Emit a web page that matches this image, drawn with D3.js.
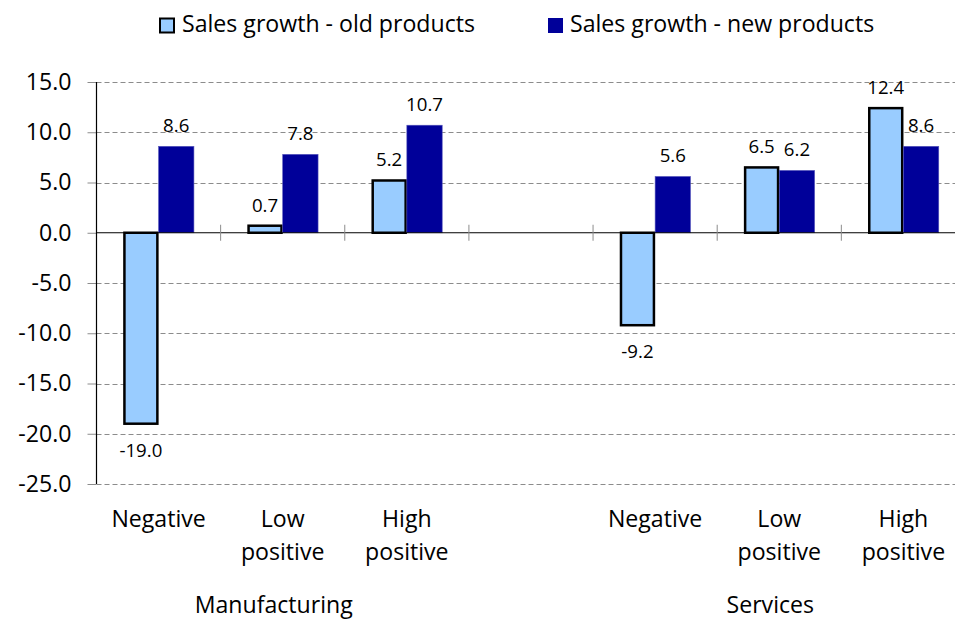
<!DOCTYPE html>
<html>
<head>
<meta charset="utf-8">
<script src="https://cdn.jsdelivr.net/npm/d3@7"></script>
<style>
  html, body { margin: 0; padding: 0; background: #fff; }
  svg { display: block; }
</style>
</head>
<body>
<svg id="chart" width="955" height="624"></svg>
<script>
// ---- data ----
const categories = ["Negative", "Low positive", "High positive", "", "Negative", "Low positive", "High positive"];
const groups = ["Manufacturing", "Services"];
const groupSpans = [[0, 2], [4, 6]];
const seriesNames = ["Sales growth - old products", "Sales growth - new products"];
const oldValues = [-19.0, 0.7, 5.2, null, -9.2, 6.5, 12.4];
const newValues = [8.6, 7.8, 10.7, null, 5.6, 6.2, 8.6];
const yTicks = [-25, -20, -15, -10, -5, 0, 5, 10, 15];

// ---- styles ----
const FONT = "'Open Sans', Lato, sans-serif";
const oldColor = "#99CCFF";
const newColor = "#000099";
const fmt = v => d3.format(".1f")(v).replace("\u2212", "-");

const svg = d3.select("#chart");

// font size calibration: target width of legend text in reference ≈ 293px
const probe = svg.append("text").attr("font-family", FONT).attr("font-size", 26).text(seriesNames[0]);
const measured = probe.node().getComputedTextLength();
probe.remove();
const k = measured > 0 ? 293 / measured : 1;
const bigSize = 26 * k;
const labelSize = 21 * k;

// ---- scales ----
const left = 96.5, step = 124.14;
const x = d3.scaleBand().domain(d3.range(categories.length)).range([left, left + step * categories.length]).paddingInner(0).paddingOuter(0);
const xs = d3.scaleBand().domain([0, 1]).range([0, x.bandwidth()]).paddingInner(0).paddingOuter(0.756);
const y = d3.scaleLinear().domain([-25, 15]).range([484, 82]);

// gridlines
svg.append("g").selectAll("line").data(yTicks.filter(t => t !== 0)).join("line")
  .attr("x1", left).attr("x2", 955)
  .attr("y1", d => Math.round(y(d)) + 0.5).attr("y2", d => Math.round(y(d)) + 0.5)
  .attr("stroke", "#8c8c8c").attr("stroke-width", 1).attr("stroke-dasharray", "5,3");

// y axis
const yAxis = d3.axisLeft(y).tickValues(yTicks).tickSize(9).tickPadding(16).tickFormat(fmt);
const yg = svg.append("g").attr("transform", `translate(${left},0)`).call(yAxis);
yg.select(".domain").remove();
yg.selectAll(".tick line").attr("stroke", "#8c8c8c");
yg.selectAll(".tick text").attr("font-family", FONT).attr("font-size", bigSize).attr("fill", "#000");
svg.append("line").attr("x1", left).attr("x2", left).attr("y1", y(15)).attr("y2", y(-25)).attr("stroke", "#000").attr("stroke-width", 1.2);

// bars
const barsG = svg.append("g");
categories.forEach((c, i) => {
  const vals = [oldValues[i], newValues[i]];
  vals.forEach((v, s) => {
    if (v === null) return;
    const x0 = x(i) + xs(s);
    const y0 = Math.min(y(v), y(0));
    const h = Math.abs(y(v) - y(0));
    if (s === 0) {
      barsG.append("rect").attr("x", x0 + 1.2).attr("y", y0).attr("width", xs.bandwidth() - 2.4).attr("height", h)
        .attr("fill", oldColor).attr("stroke", "#000").attr("stroke-width", 2.5);
    } else {
      barsG.append("rect").attr("x", x0).attr("y", y0).attr("width", xs.bandwidth()).attr("height", h)
        .attr("fill", newColor).attr("stroke", "#5555bb").attr("stroke-width", 0.6);
    }
  });
});

// zero line
svg.append("line").attr("x1", left).attr("x2", 955).attr("y1", y(0)).attr("y2", y(0)).attr("stroke", "#000").attr("stroke-width", 1.2);
// category separator ticks
svg.append("g").selectAll("line").data(d3.range(1, categories.length)).join("line")
  .attr("x1", d => x(d)).attr("x2", d => x(d))
  .attr("y1", y(0) - 8).attr("y2", y(0) + 8)
  .attr("stroke", "#8c8c8c").attr("stroke-width", 1);

// data labels
const labG = svg.append("g").attr("font-family", FONT).attr("font-size", labelSize).attr("text-anchor", "middle").attr("fill", "#000");
categories.forEach((c, i) => {
  [oldValues[i], newValues[i]].forEach((v, s) => {
    if (v === null) return;
    const cx = x(i) + xs(s) + xs.bandwidth() / 2;
    const ty = v >= 0 ? y(v) - 14 : y(v) + 33;
    labG.append("text").attr("x", cx).attr("y", ty).text(fmt(v));
  });
});

// category labels
const catG = svg.append("g").attr("font-family", FONT).attr("font-size", bigSize).attr("text-anchor", "middle").attr("fill", "#000");
categories.forEach((c, i) => {
  if (!c) return;
  const lines = c.split(" ");
  const t = catG.append("text").attr("x", x(i) + x.bandwidth() / 2).attr("y", 527);
  lines.forEach((ln, j) => t.append("tspan").attr("x", x(i) + x.bandwidth() / 2).attr("y", 527 + j * 33).text(ln));
});

// group labels
groups.forEach((g, gi) => {
  const [a, b] = groupSpans[gi];
  const cx = (x(a) + x(b) + x.bandwidth()) / 2 - 9;
  catG.append("text").attr("x", cx).attr("y", 613).text(g);
});

// legend
const lg = svg.append("g").attr("font-family", FONT).attr("font-size", bigSize).attr("fill", "#000");
lg.append("rect").attr("x", 160).attr("y", 18.5).attr("width", 14).attr("height", 14).attr("fill", oldColor).attr("stroke", "#000").attr("stroke-width", 2);
lg.append("text").attr("x", 182).attr("y", 32).text(seriesNames[0]);
lg.append("rect").attr("x", 548).attr("y", 18).attr("width", 15).attr("height", 15).attr("fill", newColor);
lg.append("text").attr("x", 570).attr("y", 32).text(seriesNames[1]);
</script>
</body>
</html>
